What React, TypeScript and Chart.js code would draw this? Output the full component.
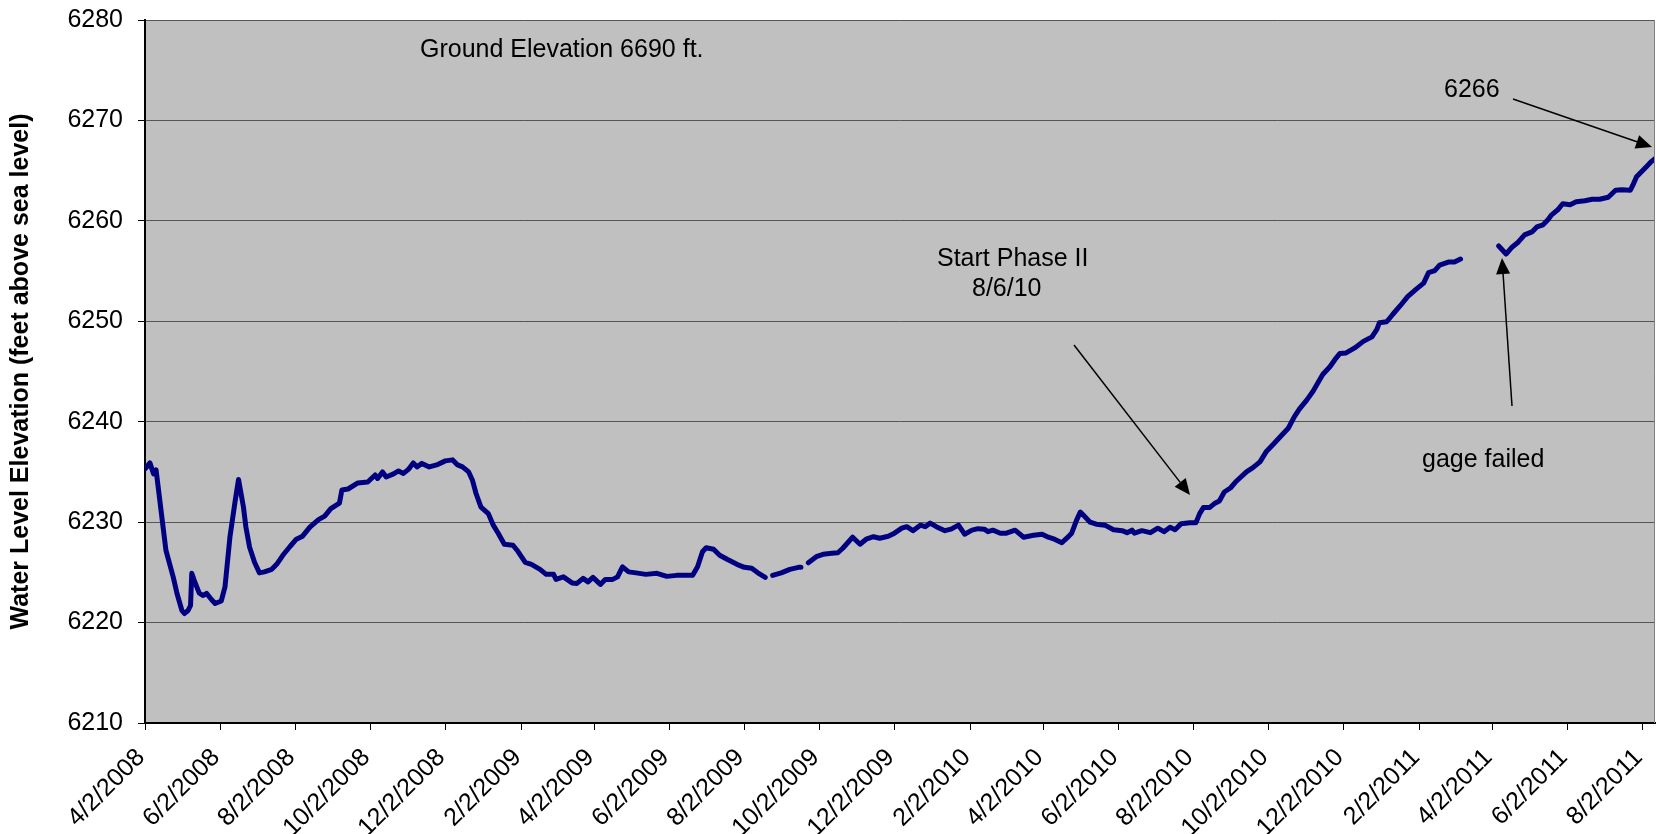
import React, { useEffect, useRef } from "react";
import { Chart, registerables } from "chart.js";

Chart.register(...registerables);

// ---------------- DATA ----------------
const START_DATE = "4/2/2008";
const AXIS_END_DAY = 1227; // last day shown on the date axis (days after START_DATE)

const tickLabels = [
  "4/2/2008", "6/2/2008", "8/2/2008", "10/2/2008", "12/2/2008",
  "2/2/2009", "4/2/2009", "6/2/2009", "8/2/2009", "10/2/2009", "12/2/2009",
  "2/2/2010", "4/2/2010", "6/2/2010", "8/2/2010", "10/2/2010", "12/2/2010",
  "2/2/2011", "4/2/2011", "6/2/2011", "8/2/2011",
];

// days after START_DATE
const dayOffsets = [
  0, 4, 7, 9, 13, 17, 23, 26, 30, 32, 35, 37, 38, 40, 44, 47, 50, 54, 57, 62,
  65, 69, 73, 76, 80, 82, 85, 89, 93, 97, 103, 107, 112, 118, 123, 128, 134, 141, 146, 151,
  158, 160, 165, 173, 181, 187, 189, 193, 196, 202, 206, 210, 214, 218, 221, 225, 231, 237, 244, 250,
  254, 258, 263, 266, 269, 273, 279, 283, 287, 292, 299, 303, 309, 314, 321, 326, 332, 334, 340, 347,
  351, 356, 360, 364, 370, 374, 380, 384, 388, 393, 399, 407, 416, 424, 432, 445, 449, 453, 456, 462,
  467, 473, 481, 487, 493, 498, 504, 507, 510, 517, 524, 531, 533, 536, 539, 546, 551, 558, 563, 567,
  571, 575, 581, 586, 592, 597, 604, 609, 615, 619, 624, 630, 634, 638, 643, 650, 655, 661, 666, 672,
  677, 682, 685, 689, 695, 700, 707, 714, 722, 729, 734, 739, 745, 749, 753, 757, 760, 764, 768, 773,
  780, 787, 794, 798, 802, 804, 810, 817, 823, 828, 833, 837, 842, 849, 854, 857, 860, 865, 869, 873,
  877, 882, 887, 895, 900, 906, 911, 918, 924, 929, 934, 938, 944, 949, 953, 957, 963, 967, 971, 976,
  983, 990, 997, 1001, 1003, 1009, 1014, 1020, 1026, 1033, 1039, 1043, 1048, 1052, 1059, 1064, 1069, 1085, 1100, 1106,
  1111, 1116, 1121, 1127, 1131, 1136, 1140, 1143, 1148, 1152, 1158, 1163, 1170, 1176, 1182, 1189, 1195, 1200, 1207, 1209,
  1212, 1216, 1220, 1224, 1227,
];

// feet above sea level (null = no record / gage failed)
const waterLevels: (number | null)[] = [
  6235.3, 6235.9, 6234.8, 6235.2, 6231.2, 6227.2, 6224.5, 6222.9, 6221.2, 6220.9, 6221.2, 6221.7, 6224.9, 6224.2, 6222.95, 6222.7, 6222.9, 6222.3, 6221.9, 6222.15,
  6223.55, 6228.5, 6231.9, 6234.25, 6231.5, 6229.5, 6227.5, 6226.0, 6224.95, 6225.05, 6225.3, 6225.8, 6226.7, 6227.6, 6228.3, 6228.6, 6229.5, 6230.25, 6230.6, 6231.35,
  6231.9, 6233.2, 6233.3, 6233.9, 6234.0, 6234.7, 6234.35, 6235.0, 6234.5, 6234.8, 6235.1, 6234.85, 6235.25, 6235.9, 6235.5, 6235.85, 6235.5, 6235.7, 6236.1, 6236.2,
  6235.7, 6235.5, 6235.0, 6234.2, 6232.85, 6231.5, 6230.85, 6229.7, 6228.9, 6227.8, 6227.7, 6227.1, 6226.0, 6225.8, 6225.3, 6224.8, 6224.8, 6224.3, 6224.55, 6223.95,
  6223.9, 6224.4, 6224.05, 6224.5, 6223.8, 6224.3, 6224.3, 6224.55, 6225.55, 6225.05, 6224.95, 6224.8, 6224.9, 6224.6, 6224.7, 6224.7, 6225.55, 6227.05, 6227.45, 6227.3,
  6226.7, 6226.3, 6225.8, 6225.5, 6225.4, 6224.95, 6224.5, null, 6224.7, 6224.95, 6225.3, 6225.5, 6225.5, null, 6225.95, 6226.6, 6226.8, 6226.9, 6226.95, 6227.4,
  6227.95, 6228.5, 6227.8, 6228.3, 6228.55, 6228.4, 6228.6, 6228.9, 6229.4, 6229.55, 6229.15, 6229.7, 6229.55, 6229.9, 6229.55, 6229.15, 6229.3, 6229.7, 6228.8, 6229.2,
  6229.35, 6229.3, 6229.05, 6229.2, 6228.9, 6228.9, 6229.2, 6228.5, 6228.7, 6228.8, 6228.5, 6228.3, 6227.95, 6228.4, 6228.9, 6230.2, 6231.0, 6230.5, 6230.0, 6229.8,
  6229.7, 6229.25, 6229.15, 6228.95, 6229.2, 6228.9, 6229.15, 6228.95, 6229.4, 6229.05, 6229.5, 6229.25, 6229.85, 6229.95, 6229.95, 6230.85, 6231.45, 6231.45, 6231.85, 6232.1,
  6233.0, 6233.4, 6234.1, 6235.0, 6235.4, 6236.0, 6237.0, 6237.9, 6238.7, 6239.35, 6240.5, 6241.25, 6242.15, 6243.0, 6243.85, 6244.7, 6245.5, 6246.2, 6246.8, 6246.85,
  6247.35, 6248.0, 6248.45, 6249.2, 6249.85, 6249.95, 6250.7, 6251.55, 6252.45, 6253.2, 6253.8, 6254.85, 6255.05, 6255.6, 6255.9, 6255.9, 6256.2, null, 6257.5, 6256.7,
  6257.4, 6257.9, 6258.6, 6258.9, 6259.4, 6259.6, 6260.1, 6260.6, 6261.1, 6261.7, 6261.6, 6261.9, 6262.0, 6262.15, 6262.15, 6262.35, 6263.05, 6263.1, 6263.05, 6263.55,
  6264.4, 6264.9, 6265.4, 6265.9, 6266.2,
];

const Y_MIN = 6210;
const Y_MAX = 6280;
const Y_STEP = 10;

const Y_TITLE = "Water Level Elevation (feet above sea level)";

// ---------------- helpers ----------------
const DAY_MS = 86400000;
function parseMDY(s: string): number {
  const [m, d, y] = s.split("/").map(Number);
  return Date.UTC(y, m - 1, d);
}
const startMs = parseMDY(START_DATE);
const tickDays = tickLabels.map((l) => Math.round((parseMDY(l) - startMs) / DAY_MS));

const FONT = "'Liberation Sans', Arial, Helvetica, sans-serif";

type Note = { text: string; x: number; y: number };
const notes: Note[] = [
  { text: "Ground Elevation 6690 ft.", x: 420, y: 50 },
  { text: "6266", x: 1444, y: 90 },
  { text: "Start Phase II", x: 937, y: 259 },
  { text: "8/6/10", x: 972, y: 289 },
  { text: "gage failed", x: 1422, y: 460 },
];
const arrows: [number, number, number, number][] = [
  [1513, 99, 1652, 147],
  [1074, 345, 1190, 495],
  [1512, 406, 1502, 258],
];

function drawArrow(ctx: CanvasRenderingContext2D, x1: number, y1: number, x2: number, y2: number) {
  const ang = Math.atan2(y2 - y1, x2 - x1);
  const L = 16;
  const W = 7;
  const bx = x2 - L * Math.cos(ang);
  const by = y2 - L * Math.sin(ang);
  ctx.beginPath();
  ctx.moveTo(x1, y1);
  ctx.lineTo(bx, by);
  ctx.stroke();
  ctx.beginPath();
  ctx.moveTo(x2, y2);
  ctx.lineTo(bx + W * Math.sin(ang), by - W * Math.cos(ang));
  ctx.lineTo(bx - W * Math.sin(ang), by + W * Math.cos(ang));
  ctx.closePath();
  ctx.fill();
}

const decorPlugin = {
  id: "decor",
  beforeDraw(chart: any) {
    const { ctx, chartArea: a } = chart;
    ctx.save();
    ctx.fillStyle = "#C0C0C0";
    ctx.fillRect(a.left, a.top, a.right - a.left, a.bottom - a.top);
    ctx.restore();
  },
  afterDraw(chart: any) {
    const { ctx, chartArea: a } = chart;
    ctx.save();
    // right border of plot area
    ctx.strokeStyle = "#808080";
    ctx.lineWidth = 1;
    ctx.beginPath();
    ctx.moveTo(a.right - 0.5, a.top);
    ctx.lineTo(a.right - 0.5, a.bottom);
    ctx.stroke();
    // annotations
    ctx.fillStyle = "#000";
    ctx.strokeStyle = "#000";
    ctx.lineWidth = 1.5;
    ctx.font = `25px ${FONT}`;
    ctx.textAlign = "left";
    ctx.textBaseline = "middle";
    notes.forEach((n) => ctx.fillText(n.text, n.x, n.y));
    arrows.forEach(([x1, y1, x2, y2]) => drawArrow(ctx, x1, y1, x2, y2));
    ctx.restore();
  },
};

export default function App() {
  const canvasRef = useRef<HTMLCanvasElement | null>(null);

  useEffect(() => {
    if (!canvasRef.current) return;
    const chart = new Chart(canvasRef.current, {
      type: "line",
      data: {
        datasets: [
          {
            data: dayOffsets.map((d, i) => ({ x: d, y: waterLevels[i] })) as any,
            borderColor: "#000080",
            borderWidth: 5,
            borderJoinStyle: "round",
            borderCapStyle: "round",
            pointRadius: 0,
            tension: 0,
            spanGaps: false,
            fill: false,
          },
        ],
      },
      options: {
        animation: false,
        responsive: false,
        devicePixelRatio: 1,
        layout: { padding: { top: 20, right: 1, left: 0, bottom: 0 } },
        plugins: {
          legend: { display: false },
          tooltip: { enabled: false },
          title: { display: false },
        },
        scales: {
          x: {
            type: "linear",
            min: 0,
            max: AXIS_END_DAY,
            afterBuildTicks: (scale: any) => {
              scale.ticks = tickDays.map((v) => ({ value: v }));
            },
            afterFit: (scale: any) => {
              scale.height = 111;
              scale.paddingLeft = 0;
              scale.paddingRight = 0;
            },
            ticks: {
              autoSkip: false,
              minRotation: 45,
              maxRotation: 45,
              padding: 13,
              labelOffset: -4,
              color: "#000",
              font: { family: FONT, size: 25 },
              callback: (_v: any, i: number) => tickLabels[i],
            },
            grid: {
              display: true,
              drawOnChartArea: false,
              drawTicks: true,
              tickLength: 7,
              tickColor: "#000",
              color: "#000",
            },
            border: { display: true, color: "#000", width: 2 },
          },
          y: {
            type: "linear",
            min: Y_MIN,
            max: Y_MAX,
            afterFit: (scale: any) => {
              scale.width = 145;
              scale.paddingTop = 0;
              scale.paddingBottom = 0;
            },
            ticks: {
              stepSize: Y_STEP,
              padding: 15,
              color: "#000",
              font: { family: FONT, size: 25 },
              callback: (v: any) => String(v),
            },
            grid: {
              color: "#555555",
              lineWidth: 1,
              drawTicks: true,
              tickLength: 7,
              tickColor: "#000",
            },
            border: { display: true, color: "#000", width: 2 },
            title: {
              display: true,
              text: Y_TITLE,
              color: "#000",
              font: { family: FONT, size: 25, weight: "bold" },
              padding: { top: 6, bottom: 0 },
            },
          },
        },
      },
      plugins: [decorPlugin],
    });
    return () => chart.destroy();
  }, []);

  return (
    <canvas
      ref={canvasRef}
      width={1656}
      height={834}
      style={{ position: "fixed", left: 0, top: 0, display: "block" }}
    />
  );
}
